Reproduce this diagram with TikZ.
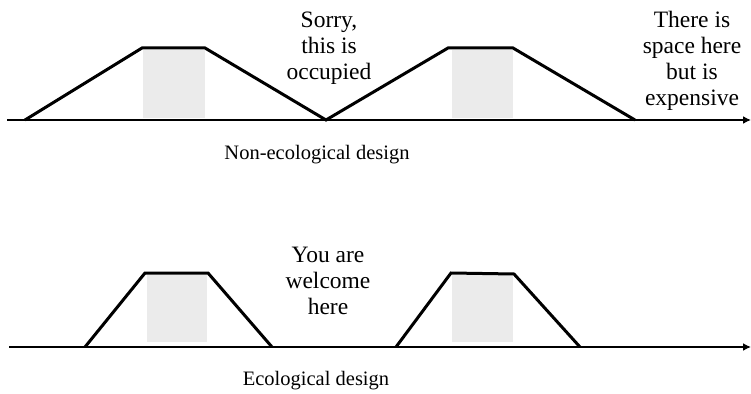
\documentclass[tikz,border=0pt]{standalone}
\usepackage{fontspec}
\setmainfont{Liberation Serif}
\usetikzlibrary{arrows.meta}
\begin{document}
\begin{tikzpicture}[x=1pt,y=-1pt,
  axis/.style={line width=2pt,-{Latex[length=8pt,width=8pt]}},
  dyke/.style={line width=3pt,line join=miter},
  core/.style={fill=black!8,draw=none},
  lbl/.style={align=center,font=\fontsize{23.5}{26}\selectfont,inner sep=0pt},
  caption/.style={font=\fontsize{20.5}{24}\selectfont,inner sep=0pt}]
\useasboundingbox (0,0) rectangle (751,393);
% top
\fill[core] (143,50) rectangle (205,118);
\fill[core] (452,50) rectangle (513,118);
\coordinate (a0) at (7,120);
\coordinate (a1) at (751,120);
\draw[axis] (a0) -- (a1);
\draw[dyke] (25,120) -- (142,48) -- (205,48) -- (326,120) -- (448,48) -- (513,48) -- (635,120);
\node[lbl] (sorry) at (329,48) {Sorry,\\this is\\occupied};
\node[lbl] (space) at (692,61) {There is\\space here\\but is\\expensive};
\node[caption] (non) at (317,155) {Non-ecological design};
% bottom
\fill[core] (147,275) rectangle (207,342);
\fill[core] (452,275) rectangle (513,342);
\coordinate (b0) at (9,347);
\coordinate (b1) at (751,347);
\draw[axis] (b0) -- (b1);
\draw[dyke] (85,347) -- (145,273) -- (208,273) -- (272,347);
\draw[dyke] (396,347) -- (451,273) -- (514,274) -- (580,347);
\node[lbl] (welcome) at (328,281) {You are\\welcome\\here};
\node[caption] (eco) at (316,381) {Ecological design};
\end{tikzpicture}
\end{document}
